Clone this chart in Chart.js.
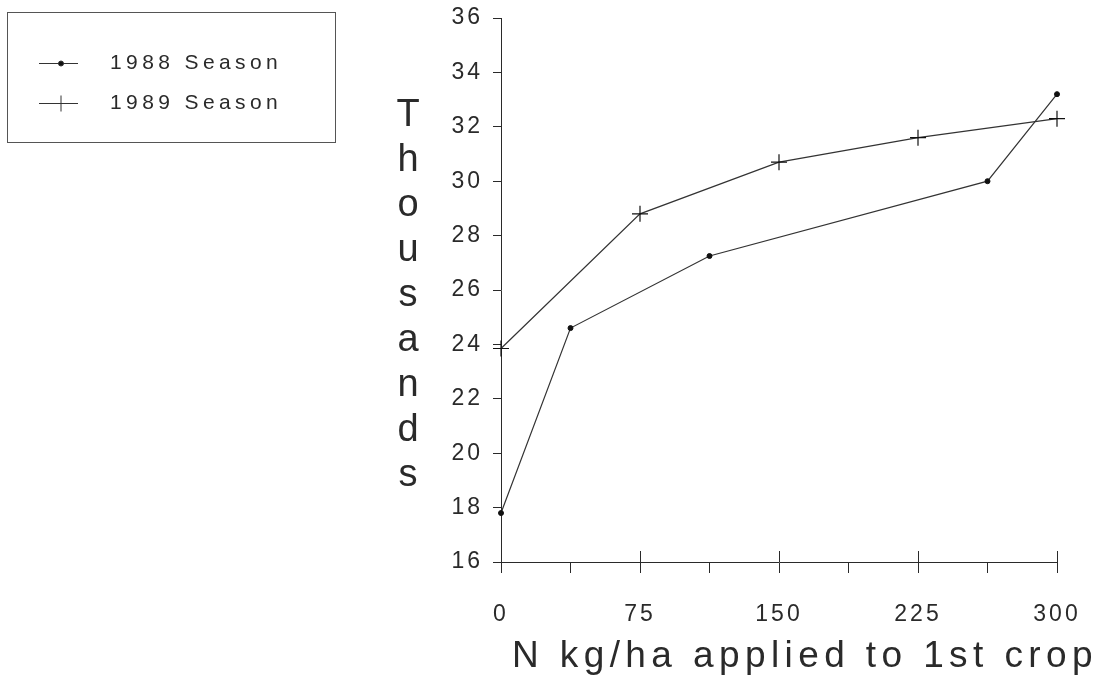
<!DOCTYPE html>
<html>
<head>
<meta charset="utf-8">
<title>Thousands vs N kg/ha applied to 1st crop</title>
<script src="https://cdn.jsdelivr.net/npm/chart.js@4/dist/chart.umd.min.js"></script>
<style>
  html, body { margin: 0; padding: 0; background: #fff; }
  #wrap { width: 1105px; height: 683px; }
</style>
</head>
<body>
<div id="wrap"><canvas id="nChart"></canvas></div>
<script>
// values: N rate (kg/ha) against yield (thousands)
const nRate1988 = [0, 37.5, 112.5, 262.5, 300];
const yield1988 = [17.8, 24.6, 27.25, 30.0, 33.2];
const nRate1989 = [0, 75, 150, 225, 300];
const yield1989 = [23.85, 28.8, 30.7, 31.6, 32.3];
const seriesNames = ["1988 Season", "1989 Season"];
const xLabelTicks = [0, 75, 150, 225, 300];
const yTitle = "Thousands";
const xTitle = "N kg/ha applied to 1st crop";

const ink = "#2a2a2a";
const font = "'Liberation Sans', Arial, sans-serif";

function toPoints(xs, ys) {
    return xs.map((x, i) => ({ x: x, y: ys[i] }));
}

// plotter style extras: crossing major ticks, stacked y title, x title, boxed legend
const plotterBits = {
    id: "plotterBits",
    beforeDraw(chart) {
        chart.ctx.letterSpacing = "3px";
    },
    afterDraw(chart) {
        const ctx = chart.ctx;
        const xs = chart.scales.x;
        const ys = chart.scales.y;
        const area = chart.chartArea;
        ctx.save();
        ctx.strokeStyle = ink;
        ctx.fillStyle = ink;
        ctx.lineWidth = 1;

        // major x ticks go through the axis
        xs.ticks.forEach(t => {
            if (xLabelTicks.includes(t.value)) {
                const px = Math.round(xs.getPixelForValue(t.value)) + 0.5;
                ctx.beginPath();
                ctx.moveTo(px, area.bottom);
                ctx.lineTo(px, area.bottom - 11);
                ctx.stroke();
            }
        });

        // y title, one letter under the other
        ctx.letterSpacing = "0px";
        ctx.font = "38px " + font;
        ctx.textAlign = "center";
        ctx.textBaseline = "middle";
        const step = 45;
        const midY = (area.top + area.bottom) / 2 + 6;
        const letters = yTitle.split("");
        letters.forEach((ch, i) => {
            ctx.fillText(ch, ys.left + 28, midY + (i - (letters.length - 1) / 2) * step);
        });

        // x title
        ctx.letterSpacing = "5.4px";
        ctx.font = "37px " + font;
        ctx.textAlign = "left";
        ctx.fillText(xTitle, area.left + 11, xs.bottom - 26);

        // legend box
        ctx.letterSpacing = "4.4px";
        ctx.font = "21px " + font;
        ctx.strokeStyle = "#555";
        ctx.strokeRect(7.5, 12.5, 328, 130);
        chart.data.datasets.forEach((ds, i) => {
            const ly = 63 + i * 40;
            ctx.strokeStyle = ds.borderColor;
            ctx.beginPath();
            ctx.moveTo(39, ly + 0.5);
            ctx.lineTo(78, ly + 0.5);
            ctx.stroke();
            ctx.fillStyle = ds.pointBackgroundColor;
            Chart.helpers.drawPoint(ctx, {
                pointStyle: ds.pointStyle,
                radius: ds.pointRadius,
                rotation: 0,
                borderWidth: 1
            }, 61, ly + 0.5);
            ctx.fillStyle = ink;
            ctx.fillText(ds.label, 110, ly);
        });
        ctx.restore();
    }
};

const ctx = document.getElementById("nChart").getContext("2d");

new Chart(ctx, {
    type: "line",
    data: {
        datasets: [
            {
                label: seriesNames[0],
                data: toPoints(nRate1988, yield1988),
                borderColor: "#333",
                borderWidth: 1.2,
                pointStyle: "circle",
                pointRadius: 2.5,
                pointBackgroundColor: "#111",
                pointBorderColor: "#111",
                pointBorderWidth: 1,
                tension: 0,
                clip: false
            },
            {
                label: seriesNames[1],
                data: toPoints(nRate1989, yield1989),
                borderColor: "#333",
                borderWidth: 1.2,
                pointStyle: "cross",
                pointRadius: 8,
                pointBackgroundColor: "#111",
                pointBorderColor: "#111",
                pointBorderWidth: 1.2,
                tension: 0,
                clip: false
            }
        ]
    },
    options: {
        responsive: true,
        maintainAspectRatio: false,
        animation: false,
        layout: {
            padding: { left: 380, top: 18, right: 48, bottom: 0 }
        },
        plugins: {
            legend: { display: false },
            tooltip: { enabled: false }
        },
        scales: {
            x: {
                type: "linear",
                min: 0,
                max: 300,
                afterFit: scale => { scale.height = 121; },
                afterBuildTicks: scale => {
                    const ticks = [];
                    for (let v = 0; v <= 300; v += 37.5) ticks.push({ value: v });
                    scale.ticks = ticks;
                },
                ticks: {
                    autoSkip: false,
                    maxRotation: 0,
                    padding: 28,
                    color: ink,
                    font: { family: font, size: 23 },
                    callback: v => xLabelTicks.includes(v) ? String(v) : ""
                },
                grid: {
                    drawOnChartArea: false,
                    tickLength: 11,
                    color: ink
                },
                border: { color: ink, width: 1 }
            },
            y: {
                min: 16,
                max: 36,
                afterFit: scale => {
                    scale.width = 121;
                    scale.paddingTop = 0;
                    scale.paddingBottom = 0;
                },
                ticks: {
                    stepSize: 2,
                    padding: 10,
                    color: ink,
                    font: { family: font, size: 23 }
                },
                grid: {
                    drawOnChartArea: false,
                    tickLength: 8,
                    color: ink
                },
                border: { color: ink, width: 1 }
            }
        }
    },
    plugins: [plotterBits]
});
</script>
</body>
</html>
